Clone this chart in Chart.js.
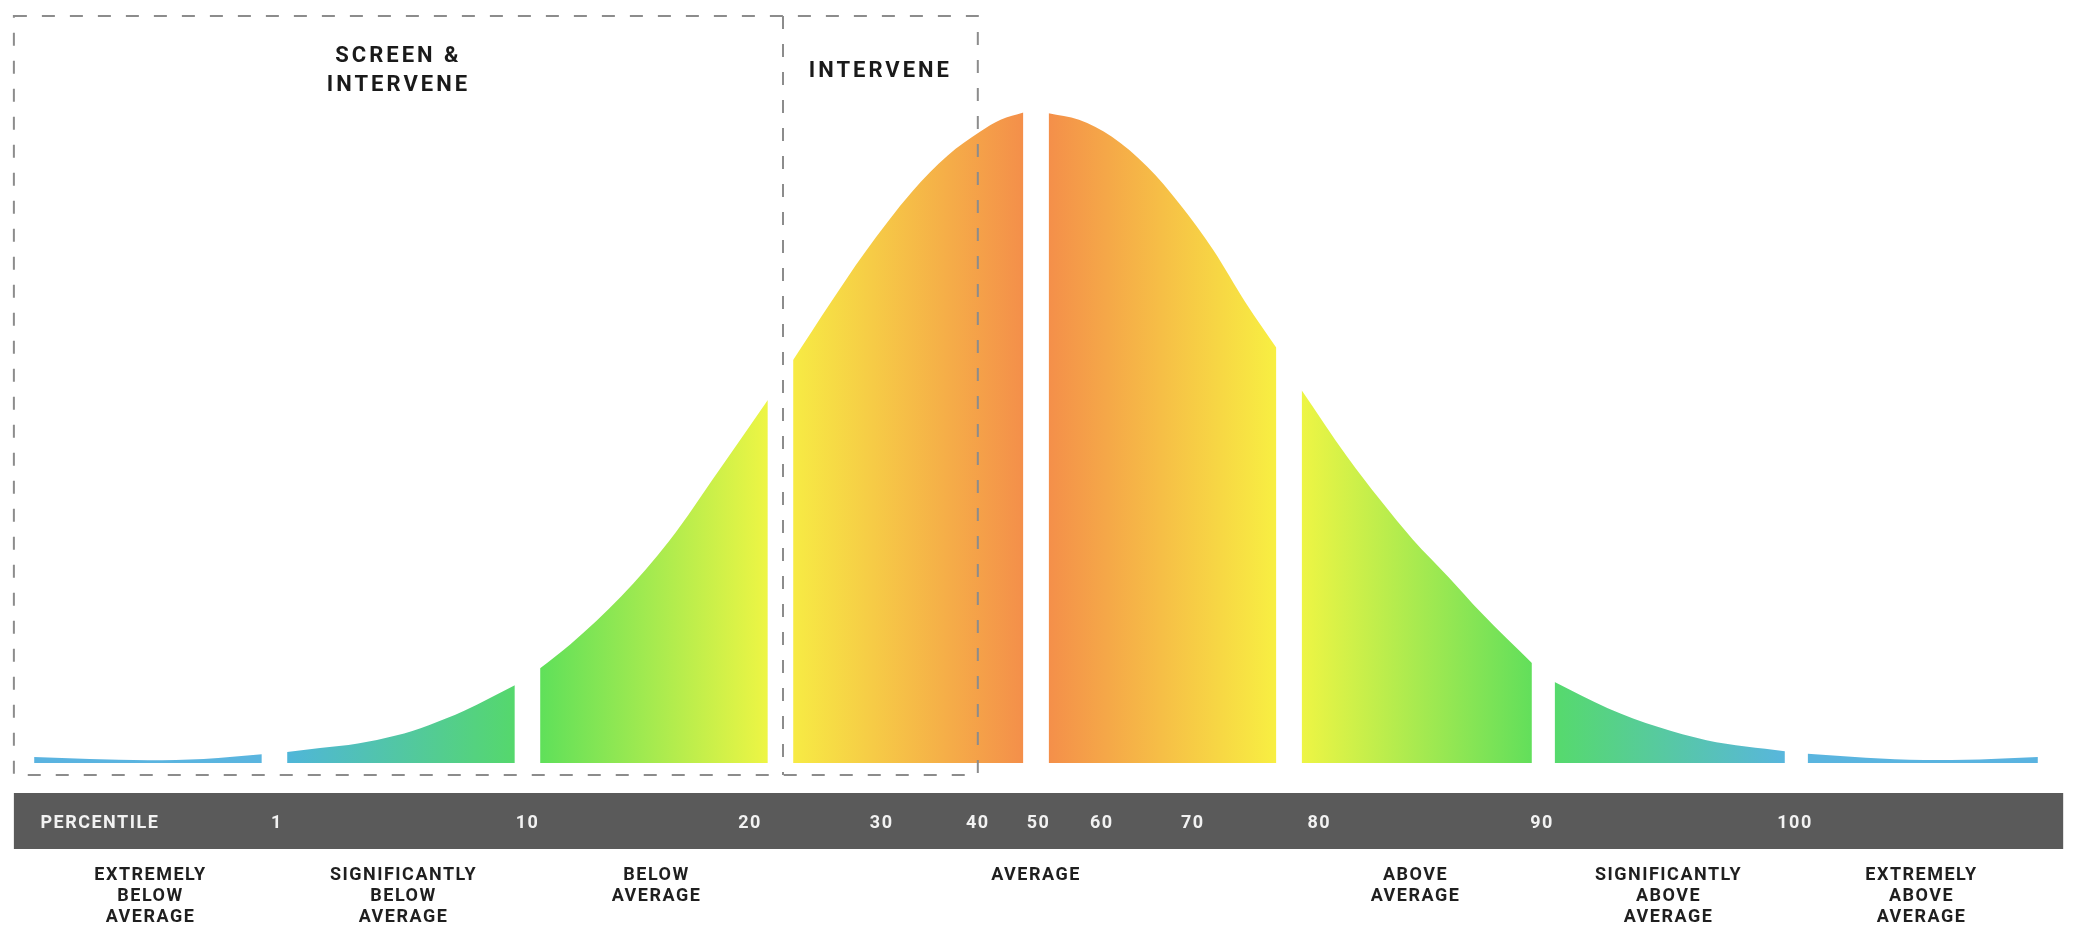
<!DOCTYPE html>
<html>
<head>
<meta charset="utf-8">
<script src="https://cdn.jsdelivr.net/npm/chart.js@4.4.0/dist/chart.umd.min.js"></script>
<style>
  html, body { margin: 0; padding: 0; background: #fff; }
  #wrap { width: 2073px; height: 933px; }
</style>
</head>
<body>
<div id="wrap"><canvas id="bell-chart" width="2073" height="933"></canvas></div>
<script>
// x = position in standard deviations, y = relative height (peak ~100)
const segmentX = [
  [-3.96, -3.74, -3.51, -3.29, -3.06],
  [-2.96, -2.83, -2.68, -2.53, -2.40, -2.26, -2.06],
  [-1.96, -1.84, -1.64, -1.45, -1.25, -1.06],
  [-0.96, -0.81, -0.68, -0.49, -0.35, -0.22, -0.14, -0.05],
  [0.05, 0.17, 0.30, 0.44, 0.57, 0.70, 0.83, 0.95],
  [1.05, 1.23, 1.36, 1.49, 1.63, 1.76, 1.96],
  [2.05, 2.26, 2.46, 2.65, 2.96],
  [3.05, 3.28, 3.51, 3.73, 3.96]
];
const segmentY = [
  [0.92, 0.6, 0.42, 0.6, 1.33],
  [1.7, 2.3, 3.0, 4.2, 5.8, 8.0, 11.9],
  [14.5, 18.2, 25.5, 34.0, 45.0, 55.6],
  [61.7, 70.6, 78.0, 87.5, 93.0, 96.7, 98.5, 99.6],
  [99.5, 98.5, 95.9, 91.3, 85.5, 78.6, 70.4, 63.6],
  [57.1, 46.9, 40.3, 34.2, 28.5, 23.0, 15.3],
  [12.4, 8.4, 5.5, 3.5, 1.8],
  [1.4, 0.8, 0.45, 0.55, 0.9]
];
const segmentColors = [
  ['#5ab3e0', '#5ab5df'],
  ['#4fb6d9', '#55d86c'],
  ['#5fe05a', '#eef544'],
  ['#f7eb44', '#f48f4a'],
  ['#f48f4a', '#f8ef42'],
  ['#eef544', '#62df5b'],
  ['#56da6c', '#58b6dd'],
  ['#5ab5df', '#5ab3e0']
];

const percentileLabels = ['PERCENTILE', '1', '10', '20', '30', '40', '50', '60', '70', '80', '90', '100'];
const percentilePos = [-3.7, -3.0, -2.01, -1.13, -0.61, -0.23, 0.01, 0.26, 0.62, 1.12, 2.0, 3.0];

const categoryLabels = [
  ['EXTREMELY', 'BELOW', 'AVERAGE'],
  ['SIGNIFICANTLY', 'BELOW', 'AVERAGE'],
  ['BELOW', 'AVERAGE'],
  ['AVERAGE'],
  ['ABOVE', 'AVERAGE'],
  ['SIGNIFICANTLY', 'ABOVE', 'AVERAGE'],
  ['EXTREMELY', 'ABOVE', 'AVERAGE']
];
const categoryPos = [-3.5, -2.5, -1.5, 0, 1.5, 2.5, 3.5];

// screen & intervene box runs to the divider, intervene box to the 40th percentile
const boxEdges = [-4.04, -1.0, -0.23];
const boxTitles = [['SCREEN &', 'INTERVENE'], ['INTERVENE']];
const barEnds = [-4.04, 4.06];

const datasets = segmentX.map(function(xs, i) {
  return {
    data: xs.map(function(x, j) { return { x: x, y: segmentY[i][j] }; }),
    fill: 'origin',
    borderWidth: 0,
    pointRadius: 0,
    cubicInterpolationMode: 'monotone',
    backgroundColor: function(c) {
      const chart = c.chart;
      if (!chart.chartArea) return segmentColors[i][0];
      const x0 = chart.scales.x.getPixelForValue(xs[0]);
      const x1 = chart.scales.x.getPixelForValue(xs[xs.length - 1]);
      const g = chart.ctx.createLinearGradient(x0, 0, x1, 0);
      g.addColorStop(0, segmentColors[i][0]);
      g.addColorStop(1, segmentColors[i][1]);
      return g;
    }
  };
});

// fixed axis heights, no extra side padding from the labels
function fixAxis(height) {
  return function(s) {
    s.height = height;
    s.paddingLeft = 0;
    s.paddingRight = 0;
  };
}

const decor = {
  id: 'decor',
  beforeDraw(chart) {
    const ctx = chart.ctx;
    const x = chart.scales.x;
    const l = x.getPixelForValue(barEnds[0]);
    const r = x.getPixelForValue(barEnds[1]);
    ctx.save();
    ctx.fillStyle = '#5a5a5a';
    ctx.fillRect(l, x.top + 30, r - l, x.bottom - x.top - 30);
    ctx.restore();
    ctx.letterSpacing = '1.5px';
  },
  afterDraw(chart) {
    const ctx = chart.ctx;
    const x = chart.scales.x;
    const top = chart.chartArea.top - 94;
    const bottom = chart.chartArea.bottom + 12;
    const px = boxEdges.map(function(v) { return x.getPixelForValue(v); });
    ctx.save();
    ctx.strokeStyle = '#8c8c8c';
    ctx.lineWidth = 2;
    ctx.setLineDash([13, 15]);
    ctx.strokeRect(px[0], top, px[2] - px[0], bottom - top);
    ctx.beginPath();
    ctx.moveTo(px[1], top);
    ctx.lineTo(px[1], bottom);
    ctx.stroke();

    ctx.letterSpacing = '3px';
    ctx.fillStyle = '#1a1a1a';
    ctx.font = 'bold 22px Roboto';
    ctx.textAlign = 'center';
    ctx.textBaseline = 'middle';
    ctx.fillText(boxTitles[0][0], (px[0] + px[1]) / 2, top + 40);
    ctx.fillText(boxTitles[0][1], (px[0] + px[1]) / 2, top + 69);
    ctx.fillText(boxTitles[1][0], (px[1] + px[2]) / 2, top + 55);
    ctx.restore();
    ctx.letterSpacing = '0px';
  }
};

new Chart(document.getElementById('bell-chart'), {
  type: 'line',
  data: { datasets: datasets },
  plugins: [decor],
  options: {
    responsive: false,
    animation: false,
    devicePixelRatio: 1,
    layout: { padding: { top: 110, left: 24, right: 25, bottom: 0 } },
    plugins: { legend: { display: false }, tooltip: { enabled: false } },
    scales: {
      x: {
        type: 'linear',
        min: -4,
        max: 4,
        position: 'bottom',
        grid: { display: false, drawTicks: false },
        border: { display: false },
        afterBuildTicks: function(s) { s.ticks = percentilePos.map(function(v) { return { value: v }; }); },
        afterFit: fixAxis(86),
        ticks: {
          autoSkip: false,
          maxRotation: 0,
          padding: 50,
          color: '#f2f2f2',
          font: { family: 'Roboto', size: 18, weight: 'bold' },
          callback: function(v, i) { return percentileLabels[i]; }
        }
      },
      x2: {
        type: 'linear',
        min: -4,
        max: 4,
        position: 'bottom',
        grid: { display: false, drawTicks: false },
        border: { display: false },
        afterBuildTicks: function(s) { s.ticks = categoryPos.map(function(v) { return { value: v }; }); },
        afterFit: fixAxis(84),
        ticks: {
          autoSkip: false,
          maxRotation: 0,
          padding: 16,
          color: '#1f1f1f',
          font: { family: 'Roboto', size: 18, weight: 'bold', lineHeight: 1.167 },
          callback: function(v, i) { return categoryLabels[i]; }
        }
      },
      y: { min: 0, max: 100, display: false }
    }
  }
});
</script>
</body>
</html>
